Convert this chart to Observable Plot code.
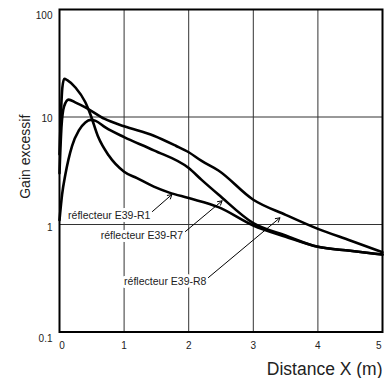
<!DOCTYPE html>
<html>
<head>
<meta charset="utf-8">
<script src="https://cdn.jsdelivr.net/npm/d3@7"></script>
<script src="https://cdn.jsdelivr.net/npm/@observablehq/plot@0.6"></script>
<style>
  html, body { margin: 0; padding: 0; background: #fff; }
  #chart svg { display: block; }
</style>
</head>
<body>
<div id="chart"></div>
<script>
// Tick values
const xTicks = [0, 1, 2, 3, 4, 5];
const yTicks = [0.1, 1, 10, 100];
const xGrid = [1, 2, 3, 4];
const yGrid = [1, 10];

// Series: réflecteur E39-R1
const r1X = [0, 0.02, 0.045, 0.075, 0.12, 0.25, 0.4, 0.48, 0.6, 0.76, 1.0, 1.2, 1.46, 1.7, 2.0, 2.46, 3.0, 3.5, 4.0, 4.5, 5.0];
const r1Y = [4.5, 10, 19, 22.7, 22, 18.7, 13.7, 10.5, 6.5, 4.4, 3.1, 2.7, 2.25, 1.98, 1.76, 1.45, 0.98, 0.77, 0.62, 0.57, 0.525];

// Series: réflecteur E39-R7
const r7X = [0, 0.04, 0.09, 0.195, 0.3, 0.4, 0.48, 0.56, 0.71, 1.0, 1.46, 2.0, 2.2, 2.46, 3.0, 3.5, 4.0, 4.5, 5.0];
const r7Y = [1.1, 1.9, 2.9, 5.4, 7.5, 8.9, 9.4, 9.2, 8.0, 6.5, 4.9, 3.35, 2.6, 1.9, 1.03, 0.79, 0.62, 0.57, 0.525];

// Series: réflecteur E39-R8
const r8X = [0, 0.03, 0.07, 0.14, 0.25, 0.4, 0.7, 1.0, 1.46, 1.8, 2.0, 2.2, 2.46, 3.0, 3.5, 4.0, 4.5, 5.0];
const r8Y = [3, 8, 12.5, 14.5, 13.6, 12.3, 9.6, 8.2, 6.7, 5.4, 4.7, 3.9, 3.18, 1.70, 1.23, 0.91, 0.71, 0.553];

// Annotations (data units)
const labels = ["réflecteur E39-R1", "réflecteur E39-R7", "réflecteur E39-R8"];
const labelX = [1.407, 1.913, 2.274];
const labelY = [1.213, 0.79, 0.295];
const arrowX1 = [1.438, 1.949, 2.305];
const arrowY1 = [1.32, 0.861, 0.321];
const arrowX2 = [1.74, 2.517, 3.412];
const arrowY2 = [1.9, 1.66, 1.154];

const xLabel = "Distance X (m)";
const yLabel = "Gain excessif";

const toRows = (xs, ys) => xs.map((x, i) => ({x, y: ys[i]}));
const series = [toRows(r1X, r1Y), toRows(r7X, r7Y), toRows(r8X, r8Y)];
const notes = labels.map((t, i) => ({
  t, lx: labelX[i], ly: labelY[i],
  x1: arrowX1[i], y1: arrowY1[i], x2: arrowX2[i], y2: arrowY2[i]
}));

const ink = "#222";
const chart = Plot.plot({
  width: 389,
  height: 378,
  marginLeft: 59,
  marginRight: 7,
  marginTop: 9,
  marginBottom: 46.5,
  style: {background: "#fff", fontFamily: "'Liberation Sans', Arial, sans-serif", fontSize: "10px", color: ink},
  x: {domain: [0, 5], axis: null},
  y: {type: "log", domain: [0.1, 100], axis: null},
  marks: [
    Plot.ruleX(xGrid, {stroke: "#333", strokeWidth: 1}),
    Plot.ruleY(yGrid, {stroke: "#333", strokeWidth: 1}),
    // x tick labels
    Plot.axisX([xTicks[0]], {tickSize: 0, tickPadding: 10, dx: 2.6, fontSize: 10, tickFormat: d => String(d), label: null}),
    Plot.axisX(xTicks.slice(1, -1), {tickSize: 0, tickPadding: 10, fontSize: 10, tickFormat: d => String(d), label: null}),
    Plot.axisX([xTicks[xTicks.length - 1]], {tickSize: 0, tickPadding: 10, dx: -3.8, fontSize: 10, tickFormat: d => String(d), label: null}),
    // y tick labels
    Plot.axisY([yTicks[0]], {tickSize: 0, tickPadding: 7, dy: 6.5, fontSize: 10, tickFormat: d => String(d), label: null}),
    Plot.axisY([yTicks[1]], {tickSize: 0, tickPadding: 7, dy: 3.5, fontSize: 10, tickFormat: d => String(d), label: null}),
    Plot.axisY([yTicks[2]], {tickSize: 0, tickPadding: 7, dy: 2, fontSize: 10, tickFormat: d => String(d), label: null}),
    Plot.axisY([yTicks[3]], {tickSize: 0, tickPadding: 7, dy: 6, fontSize: 10, tickFormat: d => String(d), label: null}),
    // axis titles
    Plot.text([xLabel], {frameAnchor: "bottom-right", text: d => d, textAnchor: "end", lineAnchor: "bottom", dy: 42.5, fontSize: 17.5, fill: ink}),
    Plot.text([yLabel], {frameAnchor: "left", text: d => d, rotate: -90, textAnchor: "middle", lineAnchor: "middle", dx: -34, dy: -14, fontSize: 14, fill: ink}),
    // curves
    ...series.map(rows => Plot.line(rows, {x: "x", y: "y", curve: "monotone-x", stroke: "#000", strokeWidth: 2.6, strokeLinejoin: "round"})),
    // annotations
    Plot.text(notes, {x: "lx", y: "ly", text: "t", textAnchor: "end", lineAnchor: "middle", fontSize: 10.5, fill: ink, stroke: "#fff", strokeWidth: 6}),
    Plot.arrow(notes, {x1: "x1", y1: "y1", x2: "x2", y2: "y2", stroke: "#000", strokeWidth: 1, headLength: 7}),
    Plot.frame({stroke: "#000", strokeWidth: 2})
  ]
});
document.getElementById("chart").appendChild(chart);
</script>
</body>
</html>
